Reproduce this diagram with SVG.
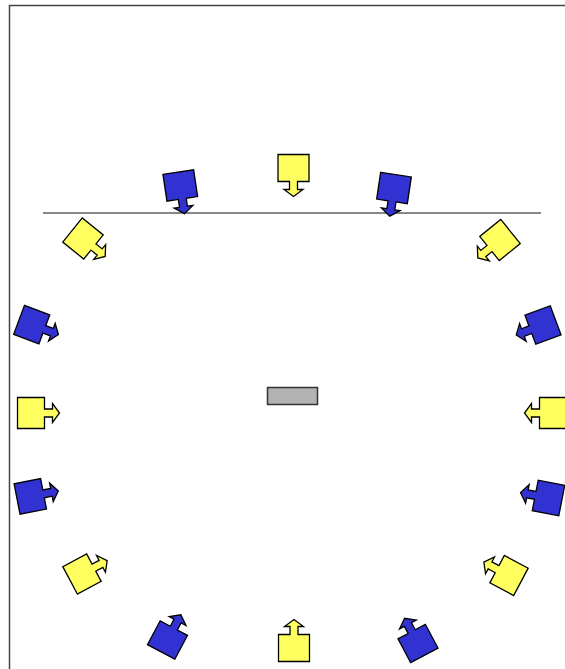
<svg xmlns="http://www.w3.org/2000/svg" xmlns:xlink="http://www.w3.org/1999/xlink" width="565" height="669" viewBox="0 0 565 669">
<style>
.frame{fill:none;stroke:#444;stroke-width:1.5}
.y{fill:#ffff5f;stroke:#000;stroke-width:1.3;stroke-linejoin:miter}
.b{fill:#3232d2;stroke:#000;stroke-width:1.3;stroke-linejoin:miter}
.line{stroke:#111;stroke-width:1.2;fill:none}
.screen{fill:#b3b3b3;stroke:#333;stroke-width:1.5}
</style>
<defs>
<path id="spk" d="M-15.5,-13.5 H15.5 V13.5 H4 V21.5 H9.5 L0,28.5 L-9.5,21.5 H-4 V13.5 H-15.5 Z"/>
</defs>
<rect width="565" height="669" fill="#fff"/>
<path class="frame" d="M9.5,669 V5.5 H565"/>
<g id="connectors">
<line class="line" x1="43" y1="213" x2="541" y2="213"/>
</g>
<g id="screen"><rect class="screen" x="267.5" y="387.5" width="50" height="17"/></g>
<g id="s1"><use href="#spk" class="y" transform="translate(293.5,168)"/></g>
<g id="s2"><use href="#spk" class="b" transform="translate(180.3,185.5) rotate(-8.5)"/></g>
<g id="s3"><use href="#spk" class="y" transform="translate(83,238.5) rotate(-51)"/></g>
<g id="s4"><use href="#spk" class="b" transform="translate(31.7,324.6) rotate(-69.5)"/></g>
<g id="s5"><use href="#spk" class="y" transform="translate(31,413) rotate(-90)"/></g>
<g id="s6"><use href="#spk" class="b" transform="translate(30.3,496.4) rotate(-101)"/></g>
<g id="s7"><use href="#spk" class="y" transform="translate(82,574) rotate(-118)"/></g>
<g id="s8"><use href="#spk" class="b" transform="translate(167.5,640) rotate(-152)"/></g>
<g id="s9"><use href="#spk" class="y" transform="translate(294,648) rotate(180)"/></g>
<g id="s10"><use href="#spk" class="b" transform="translate(418,643.5) rotate(152)"/></g>
<g id="s11"><use href="#spk" class="y" transform="translate(509,575.5) rotate(118)"/></g>
<g id="s12"><use href="#spk" class="b" transform="translate(548.5,498) rotate(101)"/></g>
<g id="s13"><use href="#spk" class="y" transform="translate(553,413) rotate(90)"/></g>
<g id="s14"><use href="#spk" class="b" transform="translate(543,325) rotate(69.5)"/></g>
<g id="s15"><use href="#spk" class="y" transform="translate(500,240) rotate(51)"/></g>
<g id="s16"><use href="#spk" class="b" transform="translate(394,188) rotate(8.5)"/></g>
</svg>
